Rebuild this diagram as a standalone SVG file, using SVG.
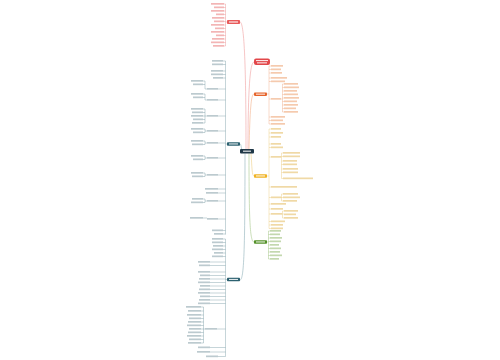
<svg xmlns="http://www.w3.org/2000/svg" width="500" height="360" viewBox="0 0 500 360">
<style>
.c{fill:none;stroke-width:0.6}
.b{fill:none;stroke-width:0.4}
.lr rect,.lo rect,.ly rect,.lg rect,.lt rect{height:1.7px}
.lr rect{fill:#f3b5b5}
.lo rect{fill:#f5caae}
.ly rect{fill:#f0d9a6}
.lg rect{fill:#c3d8ae}
.lt rect{fill:#bccacf}
.w{fill:#fff;opacity:0.85}
</style>
<rect width="500" height="360" fill="#fff"/>
<g id="connectors">
<path class="c" stroke="#f0a0a0" d="M246,149 C246,60 244,22 240,22"/>
<path class="c" stroke="#f0a0a0" d="M248,149 C248,90 250,62 254,62"/>
<path class="c" stroke="#f4b08a" d="M249,149 C250,110 251,94 254,94"/>
<path class="c" stroke="#f0d088" d="M251,153 C252,168 252,176 254,176"/>
<path class="c" stroke="#a6c78a" d="M249,153.5 C249,220 250,242 254,242"/>
<path class="c" stroke="#8fb0b9" d="M242,151 C241,146 241,144 240,144"/>
<path class="c" stroke="#8fb0b9" d="M245,153.5 C245,250 244,280 240,280"/>
<path class="b" stroke="#e98585" d="M225.5,4V46M225.5,22H227M224,4H225.5M224,7.5H225.5M224,11H225.5M224,14.5H225.5M224,18H225.5M224,21.5H225.5M224,25H225.5M224,28.5H225.5M224,32H225.5M224,35.5H225.5M224,39H225.5M224,42.5H225.5M224,46H225.5"/>
<path class="b" stroke="#6f959f" d="M225.5,61V234.5M225.5,144H227M223,61H225.5M223,64.5H225.5M223,71H225.5M223,74.5H225.5M223,78H225.5M223,230.5H225.5M223,234H225.5M218,89H225.5M218,100H225.5M218,116H225.5M218,131H225.5M218,143H225.5M218,158H225.5M218,175H225.5M218,189H225.5M218,193H225.5M218,201H225.5M218,219H225.5M203,81H205M203,84.5H205M205,81V89H207M203,94H205M203,97.5H205M205,94V100H207M203,109H205M203,112.5H205M203,116H207M203,119.5H205M203,123H205M205,109V123M203,129H205M203,132.5H205M205,129V132.5M205,131H207M203,141H205M203,144.5H205M205,141V144.5M205,143H207M203,156H205M203,159.5H205M205,156V159.5M205,158H207M203,173H205M203,176.5H205M205,173V176.5M205,175H207M203,199H205M203,202.5H205M205,199V202.5M205,201H207M203,218H207"/>
<path class="b" stroke="#6f959f" d="M225.5,239V356.5M225.5,279.5H227M223,239H225.5M223,242.5H225.5M223,246H225.5M223,249.5H225.5M223,253H225.5M223,256.5H225.5M210,262H225.5M210,265.5H225.5M210,272H225.5M210,275.5H225.5M210,279H225.5M210,282.5H225.5M210,286H225.5M210,289.5H225.5M210,293H225.5M210,296.5H225.5M210,300H225.5M210,303.5H225.5M217,329H225.5M210,347.5H225.5M210,352H225.5M218,356.5H225.5M203.5,307V343M203.5,329H205M201,307H203.5M201,311H203.5M201,315H203.5M201,318.5H203.5M201,322H203.5M201,325.5H203.5M201,329H203.5M201,332.5H203.5M201,336H203.5M201,339.5H203.5M201,343H203.5"/>
<path class="b" stroke="#eea27a" d="M269,66V124M267,94H269M269,66H271M269,69.5H271M269,73H271M269,78H271M269,81.5H271M269,99H271M269,117H271M269,120.5H271M269,124H271M282.5,84V112M281,99H282.5M282.5,84H284M282.5,87.5H284M282.5,91H284M282.5,94.5H284M282.5,98H284M282.5,101.5H284M282.5,105H284M282.5,108.5H284M282.5,112H284"/>
<path class="b" stroke="#e8c46e" d="M269,129V228.5M267,176H269M269,129H271M269,133H271M269,137H271M269,144H271M269,147.5H271M269,157H271M269,187H271M269,197.5H271M269,204H271M269,209H271M269,214H271M269,221.5H271M269,225H271M269,228.5H271M281.5,153V178.5M281,157H281.5M281.5,153H283M281.5,156.5H283M281.5,161H283M281.5,164.5H283M281.5,169H283M281.5,172.5H283M281.5,178.5H283M281.5,194V201M281,197.5H283M281.5,194H283M281.5,201H283M282.5,211V218M282,214H284M282.5,211H284M282.5,218H284"/>
<path class="b" stroke="#8fb86a" d="M268.5,231V259M267,242H268.5M268.5,231H270M268.5,234.5H270M268.5,238H270M268.5,241.5H270M268.5,245H270M268.5,248.5H270M268.5,252H270M268.5,255.5H270M268.5,259H270"/>
</g>
<g id="center"><rect x="240" y="149" width="14" height="4.6" rx="1" fill="#1f3747"/><rect class="w" x="243" y="150.6" width="8" height="1.2"/></g>
<g id="branch-red"><rect x="227" y="20" width="13" height="4" rx="0.8" fill="#e85a5a"/><rect class="w" x="229" y="21.4" width="9" height="1.2"/></g>
<g id="callout-red"><rect x="254" y="58.5" width="16" height="6.5" rx="2" fill="#e2474a"/><rect class="w" x="256" y="60" width="12" height="1.1"/><rect class="w" x="257" y="62.3" width="10" height="1.1"/></g>
<g id="branch-orange"><rect x="254" y="92.5" width="13" height="3.4" rx="0.8" fill="#e6642b"/><rect class="w" x="256" y="93.6" width="9" height="1.1"/></g>
<g id="branch-yellow"><rect x="254" y="174.3" width="13" height="3.4" rx="0.8" fill="#f0b323"/><rect class="w" x="256" y="175.4" width="9" height="1.1"/></g>
<g id="branch-green"><rect x="254" y="240.3" width="13" height="3.4" rx="0.8" fill="#55922b"/><rect class="w" x="256" y="241.4" width="9" height="1.1"/></g>
<g id="branch-teal-left"><rect x="227" y="142.3" width="13" height="3.4" rx="0.8" fill="#2c6170"/><rect class="w" x="229" y="143.4" width="9" height="1.1"/></g>
<g id="branch-teal-bottom"><rect x="227" y="277.8" width="13" height="3.4" rx="0.8" fill="#2c6170"/><rect class="w" x="229" y="278.9" width="9" height="1.1"/></g>
<g id="leaves-red" class="lr">
<rect x="211" y="3" width="13" height="2"/><rect x="214" y="6.5" width="10" height="2"/><rect x="211" y="10" width="13" height="2"/><rect x="216" y="13.5" width="8" height="2"/><rect x="212" y="17" width="12" height="2"/><rect x="214" y="20.5" width="10" height="2"/><rect x="211" y="24" width="13" height="2"/><rect x="215" y="27.5" width="9" height="2"/><rect x="211" y="31" width="13" height="2"/><rect x="216" y="34.5" width="8" height="2"/><rect x="212" y="38" width="12" height="2"/><rect x="211" y="41.5" width="13" height="2"/><rect x="213" y="45" width="11" height="2"/>
</g>
<g id="leaves-teal-left" class="lt">
<rect x="212" y="60" width="11" height="2"/><rect x="212" y="63.5" width="11" height="2"/><rect x="211" y="70" width="12" height="2"/><rect x="211" y="73.5" width="12" height="2"/><rect x="213" y="77" width="10" height="2"/><rect x="212" y="229.5" width="11" height="2"/><rect x="214" y="233" width="9" height="2"/>
<rect x="207" y="88" width="11" height="2"/><rect x="207" y="99" width="11" height="2"/><rect x="207" y="115" width="11" height="2"/><rect x="207" y="130" width="11" height="2"/><rect x="207" y="142" width="11" height="2"/><rect x="207" y="157" width="11" height="2"/><rect x="207" y="174" width="11" height="2"/><rect x="205" y="188" width="13" height="2"/><rect x="206" y="192" width="12" height="2"/><rect x="207" y="200" width="11" height="2"/><rect x="207" y="218" width="11" height="2"/>
<rect x="191" y="80" width="12" height="2"/><rect x="193" y="83.5" width="10" height="2"/><rect x="191" y="93" width="12" height="2"/><rect x="193" y="96.5" width="10" height="2"/><rect x="191" y="108" width="12" height="2"/><rect x="192" y="111.5" width="11" height="2"/><rect x="191" y="115" width="12" height="2"/><rect x="193" y="118.5" width="10" height="2"/><rect x="192" y="122" width="11" height="2"/><rect x="191" y="128" width="12" height="2"/><rect x="193" y="131.5" width="10" height="2"/><rect x="191" y="140" width="12" height="2"/><rect x="192" y="143.5" width="11" height="2"/><rect x="191" y="155" width="12" height="2"/><rect x="193" y="158.5" width="10" height="2"/><rect x="191" y="172" width="12" height="2"/><rect x="192" y="175.5" width="11" height="2"/><rect x="192" y="198" width="11" height="2"/><rect x="191" y="201.5" width="12" height="2"/><rect x="190" y="217" width="13" height="2"/>
</g>
<g id="leaves-teal-bottom" class="lt">
<rect x="212" y="238" width="11" height="2"/><rect x="212" y="241.5" width="11" height="2"/><rect x="213" y="245" width="10" height="2"/><rect x="212" y="248.5" width="11" height="2"/><rect x="214" y="252" width="9" height="2"/><rect x="212" y="255.5" width="11" height="2"/>
<rect x="198" y="261" width="12" height="2"/><rect x="199" y="264.5" width="11" height="2"/><rect x="198" y="271" width="12" height="2"/><rect x="200" y="274.5" width="10" height="2"/><rect x="199" y="278" width="11" height="2"/><rect x="198" y="281.5" width="12" height="2"/><rect x="200" y="285" width="10" height="2"/><rect x="199" y="288.5" width="11" height="2"/><rect x="198" y="292" width="12" height="2"/><rect x="200" y="295.5" width="10" height="2"/><rect x="199" y="299" width="11" height="2"/><rect x="198" y="302.5" width="12" height="2"/>
<rect x="205" y="328" width="12" height="2"/>
<rect x="186" y="306" width="15" height="2"/><rect x="188" y="310" width="13" height="2"/><rect x="187" y="314" width="14" height="2"/><rect x="189" y="317.5" width="12" height="2"/><rect x="188" y="321" width="13" height="2"/><rect x="187" y="324.5" width="14" height="2"/><rect x="189" y="328" width="12" height="2"/><rect x="188" y="331.5" width="13" height="2"/><rect x="187" y="335" width="14" height="2"/><rect x="189" y="338.5" width="12" height="2"/><rect x="188" y="342" width="13" height="2"/>
<rect x="198" y="346.5" width="12" height="2"/><rect x="197" y="351" width="13" height="2"/><rect x="206" y="355.5" width="12" height="2"/>
</g>
<g id="leaves-orange" class="lo">
<rect x="271" y="65" width="12" height="2"/><rect x="271" y="68.5" width="10" height="2"/><rect x="271" y="72" width="11" height="2"/><rect x="271" y="77" width="16" height="2"/><rect x="271" y="80.5" width="14" height="2"/><rect x="271" y="98" width="10" height="2"/><rect x="271" y="116" width="14" height="2"/><rect x="271" y="119.5" width="12" height="2"/><rect x="271" y="123" width="14" height="2"/>
<rect x="284" y="83" width="14" height="2"/><rect x="284" y="86.5" width="15" height="2"/><rect x="284" y="90" width="13" height="2"/><rect x="284" y="93.5" width="14" height="2"/><rect x="284" y="97" width="15" height="2"/><rect x="284" y="100.5" width="13" height="2"/><rect x="284" y="104" width="14" height="2"/><rect x="284" y="107.5" width="12" height="2"/><rect x="284" y="111" width="14" height="2"/>
</g>
<g id="leaves-yellow" class="ly">
<rect x="271" y="128" width="10" height="2"/><rect x="271" y="132" width="12" height="2"/><rect x="271" y="136" width="10" height="2"/><rect x="271" y="143" width="10" height="2"/><rect x="271" y="146.5" width="12" height="2"/><rect x="271" y="156" width="10" height="2"/><rect x="271" y="186" width="26" height="2"/><rect x="271" y="196.5" width="10" height="2"/><rect x="271" y="203" width="15" height="2"/><rect x="271" y="208" width="12" height="2"/><rect x="271" y="213" width="11" height="2"/><rect x="271" y="220.5" width="14" height="2"/><rect x="271" y="224" width="12" height="2"/><rect x="271" y="227.5" width="12" height="2"/>
<rect x="283" y="152" width="17" height="2"/><rect x="283" y="155.5" width="17" height="2"/><rect x="283" y="160" width="14" height="2"/><rect x="283" y="163.5" width="14" height="2"/><rect x="283" y="168" width="15" height="2"/><rect x="283" y="171.5" width="15" height="2"/><rect x="283" y="177.5" width="30" height="2"/>
<rect x="283" y="193" width="15" height="2"/><rect x="283" y="196.5" width="17" height="2"/><rect x="283" y="200" width="14" height="2"/>
<rect x="284" y="210" width="14" height="2"/><rect x="284" y="213.5" width="12" height="2"/><rect x="284" y="217" width="14" height="2"/>
</g>
<g id="leaves-green" class="lg">
<rect x="270" y="230" width="11" height="2"/><rect x="270" y="233.5" width="10" height="2"/><rect x="270" y="237" width="12" height="2"/><rect x="270" y="240.5" width="11" height="2"/><rect x="270" y="244" width="9" height="2"/><rect x="270" y="247.5" width="11" height="2"/><rect x="270" y="251" width="10" height="2"/><rect x="270" y="254.5" width="12" height="2"/><rect x="270" y="258" width="9" height="2"/>
</g>
</svg>
